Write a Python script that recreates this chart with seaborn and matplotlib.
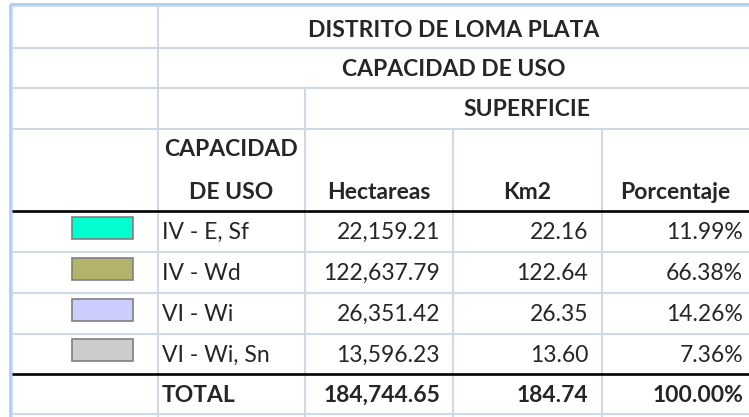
import matplotlib
matplotlib.use("Agg")
import matplotlib.pyplot as plt
from matplotlib.patches import Rectangle
import seaborn as sns

# Datos de la tabla
categorias = ["IV - E, Sf", "IV - Wd", "VI - Wi", "VI - Wi, Sn"]
hectareas = [22159.21, 122637.79, 26351.42, 13596.23]
km2 = [22.16, 122.64, 26.35, 13.60]
porcentaje = [11.99, 66.38, 14.26, 7.36]
total = ["TOTAL", 184744.65, 184.74, 100.00]
colores = ["#00FFCC", "#B3B36B", "#CCCCFF", "#CCCCCC"]

titulo = "DISTRITO DE LOMA PLATA"
subtitulo = "CAPACIDAD DE USO"
grupo = "SUPERFICIE"
encabezados = ["CAPACIDAD\nDE USO", "Hectareas", "Km2", "Porcentaje"]

sns.set_theme(style="white")
plt.rcParams['font.family'] = ['Lato', 'DejaVu Sans']

W, H = 749, 417
fig = plt.figure(figsize=(W / 100, H / 100), dpi=100)
ax = fig.add_axes([0, 0, 1, 1])
ax.set_xlim(0, W)
ax.set_ylim(H, 0)
ax.axis("off")

# Rejilla
xs = [12, 158, 305, 453, 602, 749]
ys = [6, 48, 88, 129, 211, 252, 293, 334, 374, 414]
grid = "#D0D7E5"
lw = 1.5

# borde exterior azul
ax.hlines(3.5, 9.5, 749, color="#A9C8EE", lw=1.8)
ax.vlines(9.5, 3.5, 417, color="#A9C8EE", lw=1.8)

for y in ys:
    if y in (211, 374):
        ax.hlines(y, 12, 749, color="black", lw=1.9, zorder=3)
    else:
        ax.hlines(y, 12, 749, color=grid, lw=lw)
ax.vlines(12, 6, 417, color=grid, lw=lw)
ax.vlines(158, 6, 417, color=grid, lw=lw)
ax.vlines(305, 88, 417, color=grid, lw=lw)
ax.vlines(453, 129, 417, color=grid, lw=lw)
ax.vlines(602, 129, 417, color=grid, lw=lw)

fs = 16.5
# Encabezados
ax.text(453.5, 30, titulo, ha="center", va="center", fontsize=fs, fontweight="bold")
ax.text(453.5, 69, subtitulo, ha="center", va="center", fontsize=fs, fontweight="bold")
ax.text(527, 109, grupo, ha="center", va="center", fontsize=fs, fontweight="bold")
ax.text(231, 150, "CAPACIDAD", ha="center", va="center", fontsize=fs, fontweight="bold")
ax.text(231, 192, "DE USO", ha="center", va="center", fontsize=fs, fontweight="bold")
for xc, lab in zip([379, 527, 675], encabezados[1:]):
    ax.text(xc, 192, lab, ha="center", va="center", fontsize=fs, fontweight="bold")

# Filas de datos
for i, (cat, ha_, k, p, c) in enumerate(zip(categorias, hectareas, km2, porcentaje, colores)):
    yc = (ys[4 + i] + ys[5 + i]) / 2 + 1
    ax.add_patch(Rectangle((72, yc - 16), 61, 22, facecolor=c, edgecolor="#808080", lw=1.2))
    ax.text(162, yc, cat, ha="left", va="center", fontsize=fs)
    ax.text(440, yc, f"{ha_:,.2f}", ha="right", va="center", fontsize=fs)
    ax.text(588, yc, f"{k:.2f}", ha="right", va="center", fontsize=fs)
    ax.text(743, yc, f"{p:.2f}%", ha="right", va="center", fontsize=fs)

yt = (ys[8] + ys[9]) / 2 + 1
ax.text(162, yt, total[0], ha="left", va="center", fontsize=fs, fontweight="bold")
ax.text(440, yt, f"{total[1]:,.2f}", ha="right", va="center", fontsize=fs, fontweight="bold")
ax.text(588, yt, f"{total[2]:.2f}", ha="right", va="center", fontsize=fs, fontweight="bold")
ax.text(743, yt, f"{total[3]:.2f}%", ha="right", va="center", fontsize=fs, fontweight="bold")

fig.savefig("out.png", dpi=100)
